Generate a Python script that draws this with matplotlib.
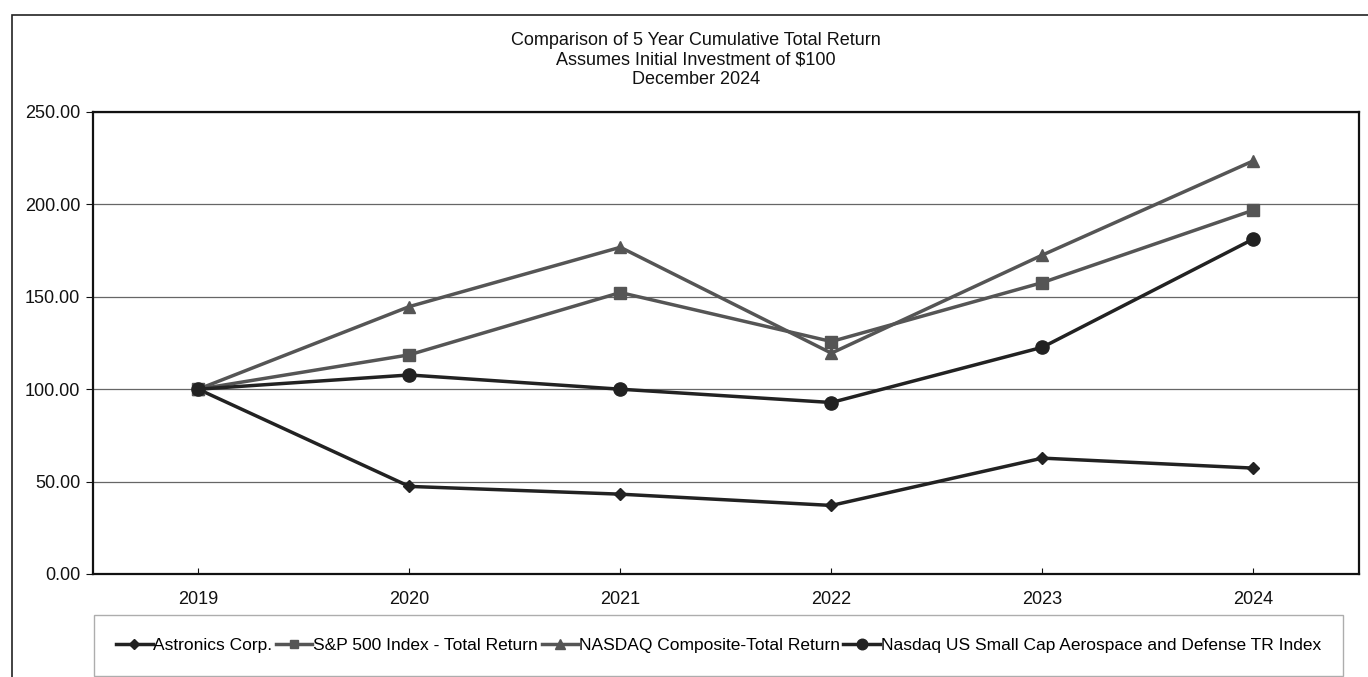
import matplotlib.pyplot as plt
from matplotlib.patches import Rectangle

plt.rcParams['font.family'] = ['Liberation Sans', 'DejaVu Sans']

# data
years = ['2019', '2020', '2021', '2022', '2023', '2024']
astronics = [100.0, 47.4, 43.2, 37.1, 62.7, 57.3]
sp500 = [100.0, 118.6, 152.3, 125.8, 157.7, 196.9]
nasdaq_comp = [100.0, 144.7, 176.8, 119.5, 172.6, 223.6]
nasdaq_aero = [100.0, 107.7, 100.0, 92.8, 122.7, 181.3]

labels = ['Astronics Corp.', 'S&P 500 Index - Total Return',
          'NASDAQ Composite-Total Return',
          'Nasdaq US Small Cap Aerospace and Defense TR Index']

W, H = 1368, 677
fig = plt.figure(figsize=(W / 100, H / 100), dpi=100)

# outer frame (cropped on the right and bottom)
fig.add_artist(Rectangle((12 / W, -0.1), 1.2, 1 - 15 / H + 0.1,
                         transform=fig.transFigure, fill=False,
                         edgecolor='#222222', linewidth=1.2))

ax = fig.add_axes([92.7 / W, 1 - 574 / H, (1359 - 92.7) / W, (574 - 112) / H])

x = range(len(years))
dark = '#222222'
gray = '#555555'
ax.plot(x, astronics, color=dark, lw=2.5, marker='D', ms=6, label=labels[0], zorder=3)
ax.plot(x, sp500, color=gray, lw=2.5, marker='s', ms=8, label=labels[1], zorder=3)
ax.plot(x, nasdaq_comp, color=gray, lw=2.5, marker='^', ms=9, label=labels[2], zorder=3)
ax.plot(x, nasdaq_aero, color=dark, lw=2.5, marker='o', ms=9.5, label=labels[3], zorder=4)

ax.set_xlim(-0.5, 5.5)
ax.set_ylim(0, 250)
ax.set_xticks(list(x))
ax.set_xticklabels(years)
ax.set_yticks([0, 50, 100, 150, 200, 250])
ax.set_yticklabels(['%.2f' % v for v in [0, 50, 100, 150, 200, 250]])
ax.tick_params(axis='x', direction='in', length=4, labelsize=13, pad=12, colors='#111111')
ax.tick_params(axis='y', direction='out', length=5, labelsize=13, pad=4, colors='#111111')
ax.yaxis.grid(True, color='#666666', linewidth=0.9)
ax.set_axisbelow(True)
for s in ax.spines.values():
    s.set_linewidth(1.6)
    s.set_color('#111111')

fig.text(696 / W, 1 - 60 / H,
         'Comparison of 5 Year Cumulative Total Return\n'
         'Assumes Initial Investment of $100\nDecember 2024',
         ha='center', va='center', fontsize=13, linespacing=1.2, color='#111111')

leg = fig.legend(loc='center', bbox_to_anchor=(718.5 / W, 1 - 645.5 / H), ncol=4,
                 fontsize=12.5, frameon=True, fancybox=False, edgecolor='#999999',
                 handlelength=2.1, handletextpad=0.05, columnspacing=0.2,
                 borderpad=1.3, markerscale=0.8)
leg.get_frame().set_linewidth(1.0)

fig.savefig('out.png', dpi=100)
